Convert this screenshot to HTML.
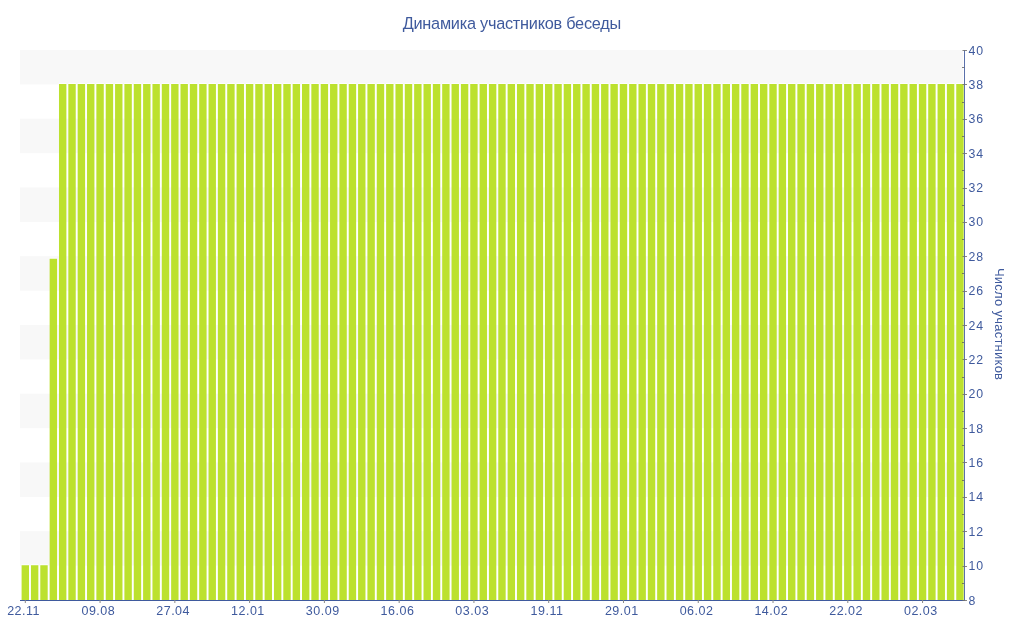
<!DOCTYPE html>
<html><head><meta charset="utf-8"><style>
html,body{margin:0;padding:0;background:#fff;width:1024px;height:640px;overflow:hidden}
svg{position:absolute;left:0;top:0;will-change:transform}
svg text{font-family:"Liberation Sans",sans-serif}
</style></head><body>
<svg width="1024" height="640" viewBox="0 0 1024 640">
<rect x="20" y="531.250" width="943" height="34.375" fill="#f8f8f8"/>
<rect x="20" y="462.500" width="943" height="34.375" fill="#f8f8f8"/>
<rect x="20" y="393.750" width="943" height="34.375" fill="#f8f8f8"/>
<rect x="20" y="325.000" width="943" height="34.375" fill="#f8f8f8"/>
<rect x="20" y="256.250" width="943" height="34.375" fill="#f8f8f8"/>
<rect x="20" y="187.500" width="943" height="34.375" fill="#f8f8f8"/>
<rect x="20" y="118.750" width="943" height="34.375" fill="#f8f8f8"/>
<rect x="20" y="50.000" width="943" height="34.375" fill="#f8f8f8"/>
<path fill="#fff" fill-opacity="0.8" d="M21.40 564.33h7.80v1.2h-7.80zM30.75 564.33h7.80v1.2h-7.80zM40.09 564.33h7.80v1.2h-7.80zM49.44 257.87h7.80v1.2h-7.80zM58.79 83.08h7.80v1.2h-7.80zM68.13 83.08h7.80v1.2h-7.80zM77.48 83.08h7.80v1.2h-7.80zM86.83 83.08h7.80v1.2h-7.80zM96.17 83.08h7.80v1.2h-7.80zM105.52 83.08h7.80v1.2h-7.80zM114.87 83.08h7.80v1.2h-7.80zM124.21 83.08h7.80v1.2h-7.80zM133.56 83.08h7.80v1.2h-7.80zM142.90 83.08h7.80v1.2h-7.80zM152.25 83.08h7.80v1.2h-7.80zM161.60 83.08h7.80v1.2h-7.80zM170.94 83.08h7.80v1.2h-7.80zM180.29 83.08h7.80v1.2h-7.80zM189.64 83.08h7.80v1.2h-7.80zM198.98 83.08h7.80v1.2h-7.80zM208.33 83.08h7.80v1.2h-7.80zM217.68 83.08h7.80v1.2h-7.80zM227.02 83.08h7.80v1.2h-7.80zM236.37 83.08h7.80v1.2h-7.80zM245.72 83.08h7.80v1.2h-7.80zM255.06 83.08h7.80v1.2h-7.80zM264.41 83.08h7.80v1.2h-7.80zM273.76 83.08h7.80v1.2h-7.80zM283.10 83.08h7.80v1.2h-7.80zM292.45 83.08h7.80v1.2h-7.80zM301.80 83.08h7.80v1.2h-7.80zM311.14 83.08h7.80v1.2h-7.80zM320.49 83.08h7.80v1.2h-7.80zM329.84 83.08h7.80v1.2h-7.80zM339.18 83.08h7.80v1.2h-7.80zM348.53 83.08h7.80v1.2h-7.80zM357.88 83.08h7.80v1.2h-7.80zM367.22 83.08h7.80v1.2h-7.80zM376.57 83.08h7.80v1.2h-7.80zM385.91 83.08h7.80v1.2h-7.80zM395.26 83.08h7.80v1.2h-7.80zM404.61 83.08h7.80v1.2h-7.80zM413.95 83.08h7.80v1.2h-7.80zM423.30 83.08h7.80v1.2h-7.80zM432.65 83.08h7.80v1.2h-7.80zM441.99 83.08h7.80v1.2h-7.80zM451.34 83.08h7.80v1.2h-7.80zM460.69 83.08h7.80v1.2h-7.80zM470.03 83.08h7.80v1.2h-7.80zM479.38 83.08h7.80v1.2h-7.80zM488.73 83.08h7.80v1.2h-7.80zM498.07 83.08h7.80v1.2h-7.80zM507.42 83.08h7.80v1.2h-7.80zM516.77 83.08h7.80v1.2h-7.80zM526.11 83.08h7.80v1.2h-7.80zM535.46 83.08h7.80v1.2h-7.80zM544.81 83.08h7.80v1.2h-7.80zM554.15 83.08h7.80v1.2h-7.80zM563.50 83.08h7.80v1.2h-7.80zM572.85 83.08h7.80v1.2h-7.80zM582.19 83.08h7.80v1.2h-7.80zM591.54 83.08h7.80v1.2h-7.80zM600.89 83.08h7.80v1.2h-7.80zM610.23 83.08h7.80v1.2h-7.80zM619.58 83.08h7.80v1.2h-7.80zM628.92 83.08h7.80v1.2h-7.80zM638.27 83.08h7.80v1.2h-7.80zM647.62 83.08h7.80v1.2h-7.80zM656.96 83.08h7.80v1.2h-7.80zM666.31 83.08h7.80v1.2h-7.80zM675.66 83.08h7.80v1.2h-7.80zM685.00 83.08h7.80v1.2h-7.80zM694.35 83.08h7.80v1.2h-7.80zM703.70 83.08h7.80v1.2h-7.80zM713.04 83.08h7.80v1.2h-7.80zM722.39 83.08h7.80v1.2h-7.80zM731.74 83.08h7.80v1.2h-7.80zM741.08 83.08h7.80v1.2h-7.80zM750.43 83.08h7.80v1.2h-7.80zM759.78 83.08h7.80v1.2h-7.80zM769.12 83.08h7.80v1.2h-7.80zM778.47 83.08h7.80v1.2h-7.80zM787.82 83.08h7.80v1.2h-7.80zM797.16 83.08h7.80v1.2h-7.80zM806.51 83.08h7.80v1.2h-7.80zM815.86 83.08h7.80v1.2h-7.80zM825.20 83.08h7.80v1.2h-7.80zM834.55 83.08h7.80v1.2h-7.80zM843.90 83.08h7.80v1.2h-7.80zM853.24 83.08h7.80v1.2h-7.80zM862.59 83.08h7.80v1.2h-7.80zM871.93 83.08h7.80v1.2h-7.80zM881.28 83.08h7.80v1.2h-7.80zM890.63 83.08h7.80v1.2h-7.80zM899.97 83.08h7.80v1.2h-7.80zM909.32 83.08h7.80v1.2h-7.80zM918.67 83.08h7.80v1.2h-7.80zM928.01 83.08h7.80v1.2h-7.80zM937.36 83.08h7.80v1.2h-7.80zM946.71 83.08h7.80v1.2h-7.80zM956.05 83.08h7.80v1.2h-7.80z"/>
<path fill="#bce12e" d="M21.60 565.33h7.40V600h-7.40zM30.95 565.33h7.40V600h-7.40zM40.29 565.33h7.40V600h-7.40zM49.64 258.87h7.40V600h-7.40zM58.99 84.08h7.40V600h-7.40zM68.33 84.08h7.40V600h-7.40zM77.68 84.08h7.40V600h-7.40zM87.03 84.08h7.40V600h-7.40zM96.37 84.08h7.40V600h-7.40zM105.72 84.08h7.40V600h-7.40zM115.07 84.08h7.40V600h-7.40zM124.41 84.08h7.40V600h-7.40zM133.76 84.08h7.40V600h-7.40zM143.10 84.08h7.40V600h-7.40zM152.45 84.08h7.40V600h-7.40zM161.80 84.08h7.40V600h-7.40zM171.14 84.08h7.40V600h-7.40zM180.49 84.08h7.40V600h-7.40zM189.84 84.08h7.40V600h-7.40zM199.18 84.08h7.40V600h-7.40zM208.53 84.08h7.40V600h-7.40zM217.88 84.08h7.40V600h-7.40zM227.22 84.08h7.40V600h-7.40zM236.57 84.08h7.40V600h-7.40zM245.92 84.08h7.40V600h-7.40zM255.26 84.08h7.40V600h-7.40zM264.61 84.08h7.40V600h-7.40zM273.96 84.08h7.40V600h-7.40zM283.30 84.08h7.40V600h-7.40zM292.65 84.08h7.40V600h-7.40zM302.00 84.08h7.40V600h-7.40zM311.34 84.08h7.40V600h-7.40zM320.69 84.08h7.40V600h-7.40zM330.04 84.08h7.40V600h-7.40zM339.38 84.08h7.40V600h-7.40zM348.73 84.08h7.40V600h-7.40zM358.08 84.08h7.40V600h-7.40zM367.42 84.08h7.40V600h-7.40zM376.77 84.08h7.40V600h-7.40zM386.11 84.08h7.40V600h-7.40zM395.46 84.08h7.40V600h-7.40zM404.81 84.08h7.40V600h-7.40zM414.15 84.08h7.40V600h-7.40zM423.50 84.08h7.40V600h-7.40zM432.85 84.08h7.40V600h-7.40zM442.19 84.08h7.40V600h-7.40zM451.54 84.08h7.40V600h-7.40zM460.89 84.08h7.40V600h-7.40zM470.23 84.08h7.40V600h-7.40zM479.58 84.08h7.40V600h-7.40zM488.93 84.08h7.40V600h-7.40zM498.27 84.08h7.40V600h-7.40zM507.62 84.08h7.40V600h-7.40zM516.97 84.08h7.40V600h-7.40zM526.31 84.08h7.40V600h-7.40zM535.66 84.08h7.40V600h-7.40zM545.01 84.08h7.40V600h-7.40zM554.35 84.08h7.40V600h-7.40zM563.70 84.08h7.40V600h-7.40zM573.05 84.08h7.40V600h-7.40zM582.39 84.08h7.40V600h-7.40zM591.74 84.08h7.40V600h-7.40zM601.09 84.08h7.40V600h-7.40zM610.43 84.08h7.40V600h-7.40zM619.78 84.08h7.40V600h-7.40zM629.12 84.08h7.40V600h-7.40zM638.47 84.08h7.40V600h-7.40zM647.82 84.08h7.40V600h-7.40zM657.16 84.08h7.40V600h-7.40zM666.51 84.08h7.40V600h-7.40zM675.86 84.08h7.40V600h-7.40zM685.20 84.08h7.40V600h-7.40zM694.55 84.08h7.40V600h-7.40zM703.90 84.08h7.40V600h-7.40zM713.24 84.08h7.40V600h-7.40zM722.59 84.08h7.40V600h-7.40zM731.94 84.08h7.40V600h-7.40zM741.28 84.08h7.40V600h-7.40zM750.63 84.08h7.40V600h-7.40zM759.98 84.08h7.40V600h-7.40zM769.32 84.08h7.40V600h-7.40zM778.67 84.08h7.40V600h-7.40zM788.02 84.08h7.40V600h-7.40zM797.36 84.08h7.40V600h-7.40zM806.71 84.08h7.40V600h-7.40zM816.06 84.08h7.40V600h-7.40zM825.40 84.08h7.40V600h-7.40zM834.75 84.08h7.40V600h-7.40zM844.10 84.08h7.40V600h-7.40zM853.44 84.08h7.40V600h-7.40zM862.79 84.08h7.40V600h-7.40zM872.13 84.08h7.40V600h-7.40zM881.48 84.08h7.40V600h-7.40zM890.83 84.08h7.40V600h-7.40zM900.17 84.08h7.40V600h-7.40zM909.52 84.08h7.40V600h-7.40zM918.87 84.08h7.40V600h-7.40zM928.21 84.08h7.40V600h-7.40zM937.56 84.08h7.40V600h-7.40zM946.91 84.08h7.40V600h-7.40zM956.25 84.08h7.40V600h-7.40z"/>
<rect x="20" y="600" width="945" height="1" fill="#3f5a9d"/>
<rect x="964" y="50" width="1" height="551" fill="#5a70ab"/>
<rect x="962.5" y="600" width="4.5" height="1" fill="#707070" fill-opacity="0.85"/>
<rect x="962" y="583" width="2.3" height="1" fill="#606060" fill-opacity="0.8"/>
<rect x="962.5" y="566" width="4.5" height="1" fill="#707070" fill-opacity="0.85"/>
<rect x="962" y="548" width="2.3" height="1" fill="#606060" fill-opacity="0.8"/>
<rect x="962.5" y="531" width="4.5" height="1" fill="#707070" fill-opacity="0.85"/>
<rect x="962" y="514" width="2.3" height="1" fill="#606060" fill-opacity="0.8"/>
<rect x="962.5" y="497" width="4.5" height="1" fill="#707070" fill-opacity="0.85"/>
<rect x="962" y="480" width="2.3" height="1" fill="#606060" fill-opacity="0.8"/>
<rect x="962.5" y="462" width="4.5" height="1" fill="#707070" fill-opacity="0.85"/>
<rect x="962" y="445" width="2.3" height="1" fill="#606060" fill-opacity="0.8"/>
<rect x="962.5" y="428" width="4.5" height="1" fill="#707070" fill-opacity="0.85"/>
<rect x="962" y="411" width="2.3" height="1" fill="#606060" fill-opacity="0.8"/>
<rect x="962.5" y="394" width="4.5" height="1" fill="#707070" fill-opacity="0.85"/>
<rect x="962" y="377" width="2.3" height="1" fill="#606060" fill-opacity="0.8"/>
<rect x="962.5" y="359" width="4.5" height="1" fill="#707070" fill-opacity="0.85"/>
<rect x="962" y="342" width="2.3" height="1" fill="#606060" fill-opacity="0.8"/>
<rect x="962.5" y="325" width="4.5" height="1" fill="#707070" fill-opacity="0.85"/>
<rect x="962" y="308" width="2.3" height="1" fill="#606060" fill-opacity="0.8"/>
<rect x="962.5" y="291" width="4.5" height="1" fill="#707070" fill-opacity="0.85"/>
<rect x="962" y="273" width="2.3" height="1" fill="#606060" fill-opacity="0.8"/>
<rect x="962.5" y="256" width="4.5" height="1" fill="#707070" fill-opacity="0.85"/>
<rect x="962" y="239" width="2.3" height="1" fill="#606060" fill-opacity="0.8"/>
<rect x="962.5" y="222" width="4.5" height="1" fill="#707070" fill-opacity="0.85"/>
<rect x="962" y="205" width="2.3" height="1" fill="#606060" fill-opacity="0.8"/>
<rect x="962.5" y="188" width="4.5" height="1" fill="#707070" fill-opacity="0.85"/>
<rect x="962" y="170" width="2.3" height="1" fill="#606060" fill-opacity="0.8"/>
<rect x="962.5" y="153" width="4.5" height="1" fill="#707070" fill-opacity="0.85"/>
<rect x="962" y="136" width="2.3" height="1" fill="#606060" fill-opacity="0.8"/>
<rect x="962.5" y="119" width="4.5" height="1" fill="#707070" fill-opacity="0.85"/>
<rect x="962" y="102" width="2.3" height="1" fill="#606060" fill-opacity="0.8"/>
<rect x="962.5" y="84" width="4.5" height="1" fill="#707070" fill-opacity="0.85"/>
<rect x="962" y="67" width="2.3" height="1" fill="#606060" fill-opacity="0.8"/>
<rect x="962.5" y="50" width="4.5" height="1" fill="#707070" fill-opacity="0.85"/>
<text x="968.6" y="604.60" font-size="12.3" letter-spacing="0.7" fill="#3f5a9d">8</text>
<text x="968.6" y="570.23" font-size="12.3" letter-spacing="0.7" fill="#3f5a9d">10</text>
<text x="968.6" y="535.85" font-size="12.3" letter-spacing="0.7" fill="#3f5a9d">12</text>
<text x="968.6" y="501.48" font-size="12.3" letter-spacing="0.7" fill="#3f5a9d">14</text>
<text x="968.6" y="467.10" font-size="12.3" letter-spacing="0.7" fill="#3f5a9d">16</text>
<text x="968.6" y="432.73" font-size="12.3" letter-spacing="0.7" fill="#3f5a9d">18</text>
<text x="968.6" y="398.35" font-size="12.3" letter-spacing="0.7" fill="#3f5a9d">20</text>
<text x="968.6" y="363.98" font-size="12.3" letter-spacing="0.7" fill="#3f5a9d">22</text>
<text x="968.6" y="329.60" font-size="12.3" letter-spacing="0.7" fill="#3f5a9d">24</text>
<text x="968.6" y="295.23" font-size="12.3" letter-spacing="0.7" fill="#3f5a9d">26</text>
<text x="968.6" y="260.85" font-size="12.3" letter-spacing="0.7" fill="#3f5a9d">28</text>
<text x="968.6" y="226.47" font-size="12.3" letter-spacing="0.7" fill="#3f5a9d">30</text>
<text x="968.6" y="192.10" font-size="12.3" letter-spacing="0.7" fill="#3f5a9d">32</text>
<text x="968.6" y="157.72" font-size="12.3" letter-spacing="0.7" fill="#3f5a9d">34</text>
<text x="968.6" y="123.35" font-size="12.3" letter-spacing="0.7" fill="#3f5a9d">36</text>
<text x="968.6" y="88.97" font-size="12.3" letter-spacing="0.7" fill="#3f5a9d">38</text>
<text x="968.6" y="54.60" font-size="12.3" letter-spacing="0.7" fill="#3f5a9d">40</text>
<rect x="24.80" y="600" width="1" height="3" fill="#888"/>
<text x="23.60" y="615.3" font-size="12.5" letter-spacing="0.5" text-anchor="middle" fill="#3f5a9d">22.11</text>
<rect x="99.57" y="600" width="1" height="3" fill="#888"/>
<text x="98.37" y="615.3" font-size="12.5" letter-spacing="0.5" text-anchor="middle" fill="#3f5a9d">09.08</text>
<rect x="174.34" y="600" width="1" height="3" fill="#888"/>
<text x="173.14" y="615.3" font-size="12.5" letter-spacing="0.5" text-anchor="middle" fill="#3f5a9d">27.04</text>
<rect x="249.12" y="600" width="1" height="3" fill="#888"/>
<text x="247.92" y="615.3" font-size="12.5" letter-spacing="0.5" text-anchor="middle" fill="#3f5a9d">12.01</text>
<rect x="323.89" y="600" width="1" height="3" fill="#888"/>
<text x="322.69" y="615.3" font-size="12.5" letter-spacing="0.5" text-anchor="middle" fill="#3f5a9d">30.09</text>
<rect x="398.66" y="600" width="1" height="3" fill="#888"/>
<text x="397.46" y="615.3" font-size="12.5" letter-spacing="0.5" text-anchor="middle" fill="#3f5a9d">16.06</text>
<rect x="473.43" y="600" width="1" height="3" fill="#888"/>
<text x="472.23" y="615.3" font-size="12.5" letter-spacing="0.5" text-anchor="middle" fill="#3f5a9d">03.03</text>
<rect x="548.21" y="600" width="1" height="3" fill="#888"/>
<text x="547.01" y="615.3" font-size="12.5" letter-spacing="0.5" text-anchor="middle" fill="#3f5a9d">19.11</text>
<rect x="622.98" y="600" width="1" height="3" fill="#888"/>
<text x="621.78" y="615.3" font-size="12.5" letter-spacing="0.5" text-anchor="middle" fill="#3f5a9d">29.01</text>
<rect x="697.75" y="600" width="1" height="3" fill="#888"/>
<text x="696.55" y="615.3" font-size="12.5" letter-spacing="0.5" text-anchor="middle" fill="#3f5a9d">06.02</text>
<rect x="772.52" y="600" width="1" height="3" fill="#888"/>
<text x="771.32" y="615.3" font-size="12.5" letter-spacing="0.5" text-anchor="middle" fill="#3f5a9d">14.02</text>
<rect x="847.30" y="600" width="1" height="3" fill="#888"/>
<text x="846.10" y="615.3" font-size="12.5" letter-spacing="0.5" text-anchor="middle" fill="#3f5a9d">22.02</text>
<rect x="922.07" y="600" width="1" height="3" fill="#888"/>
<text x="920.87" y="615.3" font-size="12.5" letter-spacing="0.5" text-anchor="middle" fill="#3f5a9d">02.03</text>
<text x="402.7" y="28.6" font-size="16.3" textLength="218.5" lengthAdjust="spacing" fill="#3f5a9d">Динамика участников беседы</text>
<text transform="translate(995,324.1) rotate(90)" font-size="13" letter-spacing="0.25" text-anchor="middle" fill="#3f5a9d">Число участников</text>
</svg>
</body></html>
